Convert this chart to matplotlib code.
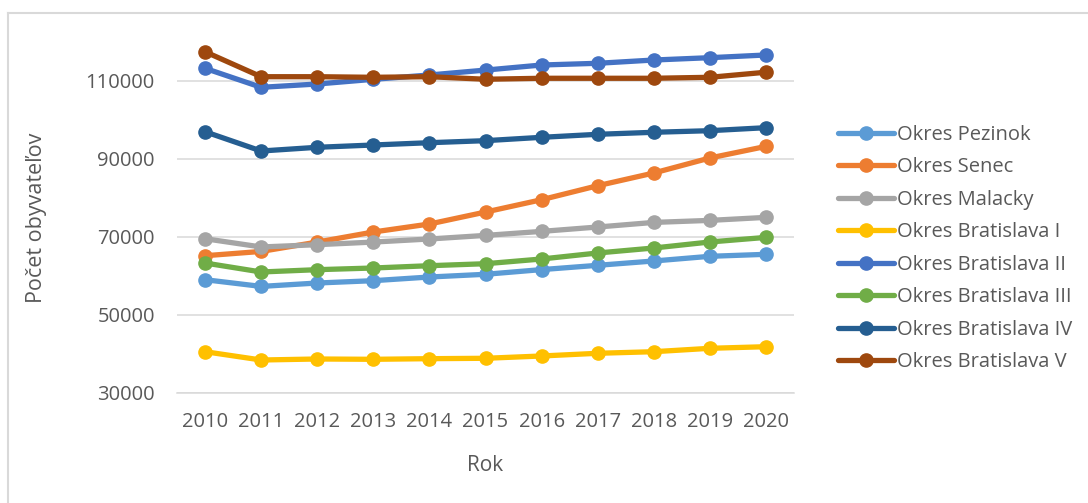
import matplotlib
matplotlib.use("Agg")
import matplotlib.pyplot as plt
from matplotlib.lines import Line2D

# data
years = [2010, 2011, 2012, 2013, 2014, 2015, 2016, 2017, 2018, 2019, 2020]

pezinok = [59050, 57330, 58200, 58800, 59740, 60440, 61640, 62740, 63850, 65050, 65560]
senec = [65200, 66300, 68700, 71280, 73330, 76400, 79560, 83150, 86410, 90260, 93230]
malacky = [69560, 67440, 68030, 68700, 69490, 70410, 71440, 72560, 73740, 74260, 75030]
ba_1 = [40590, 38460, 38720, 38640, 38800, 38900, 39490, 40180, 40590, 41460, 41870]
ba_2 = [113250, 108380, 109230, 110430, 111540, 112800, 114100, 114540, 115380, 115980, 116670]
ba_3 = [63330, 61030, 61620, 62050, 62640, 63150, 64360, 65900, 67180, 68720, 69900]
ba_4 = [97000, 92050, 93000, 93590, 94180, 94700, 95560, 96330, 96850, 97260, 98030]
ba_5 = [117500, 111100, 111100, 110950, 111100, 110450, 110700, 110700, 110700, 110950, 112250]

series = [
    ("Okres Pezinok", pezinok, "#5B9BD5"),
    ("Okres Senec", senec, "#ED7D31"),
    ("Okres Malacky", malacky, "#A5A5A5"),
    ("Okres Bratislava I", ba_1, "#FFC000"),
    ("Okres Bratislava II", ba_2, "#4472C4"),
    ("Okres Bratislava III", ba_3, "#70AD47"),
    ("Okres Bratislava IV", ba_4, "#255E91"),
    ("Okres Bratislava V", ba_5, "#9E480E"),
]

yticks = [30000, 50000, 70000, 90000, 110000]

plt.rcParams["font.family"] = ["Open Sans", "DejaVu Sans"]
text_col = "#595959"
grid_col = "#D9D9D9"

W, H = 1088, 503
fig = plt.figure(figsize=(W / 100, H / 100), dpi=100)

# plot area in pixels: x 177..794, y 42..393
ax = fig.add_axes([177 / W, (H - 393) / H, (794 - 177) / W, (393 - 42) / H])

for name, vals, col in series:
    ax.plot(years, vals, color=col, lw=3.8, marker="o", ms=9.5,
            label=name, solid_capstyle="round")

ax.set_xlim(2009.5, 2020.5)
ax.set_ylim(30000, 120000)
ax.set_yticks(yticks)
ax.set_xticks(years)
ax.set_xticklabels([str(y) for y in years])
ax.yaxis.grid(True, color=grid_col, lw=1.1)
ax.set_axisbelow(True)
for s in ["top", "right", "left"]:
    ax.spines[s].set_visible(False)
ax.spines["bottom"].set_color(grid_col)
ax.spines["bottom"].set_linewidth(1.1)
ax.tick_params(axis="both", length=0, labelsize=14.5, colors=text_col)
ax.tick_params(axis="x", pad=14)
ax.tick_params(axis="y", pad=16)

ax.set_xlabel("Rok", fontsize=15, color=text_col, labelpad=16)
ax.set_ylabel("Počet obyvateľov", fontsize=15.5, color=text_col, labelpad=28)

fig.legend(loc="center left", bbox_to_anchor=(838 / W, (H - 248.5) / H),
           frameon=False, fontsize=14.5, labelcolor=text_col,
           handlelength=2.8, handletextpad=0.15, labelspacing=0.62,
           borderpad=0, borderaxespad=0)

# outer chart border (only top and left fall inside the picture)
fig.add_artist(Line2D([8 / W, 1.0], [(H - 13) / H] * 2, color=grid_col, lw=1.5,
                      transform=fig.transFigure))
fig.add_artist(Line2D([8 / W] * 2, [0, (H - 13) / H], color=grid_col, lw=1.5,
                      transform=fig.transFigure))

fig.savefig("out.png", dpi=100, facecolor="white")
